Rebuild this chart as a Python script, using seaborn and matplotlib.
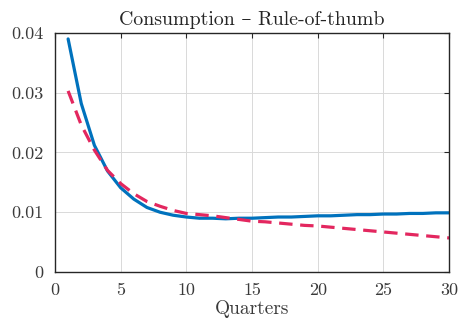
import numpy as np
import pandas as pd
import matplotlib
matplotlib.use("Agg")
import matplotlib.pyplot as plt
import seaborn as sns
from matplotlib.ticker import FuncFormatter

# Impulse response of consumption, quarters 1..30
quarters = list(range(1, 31))
baseline = [0.0390, 0.0282, 0.0212, 0.0169, 0.0141, 0.0122, 0.0108, 0.0100,
            0.0095, 0.0092, 0.0090, 0.0090, 0.0089, 0.0090, 0.0090, 0.0091,
            0.0092, 0.0092, 0.0093, 0.0094, 0.0094, 0.0095, 0.0096, 0.0096,
            0.0097, 0.0097, 0.0098, 0.0098, 0.0099, 0.0099]
alternative = [0.0303, 0.0246, 0.0204, 0.0170, 0.0148, 0.0131, 0.0118, 0.0110,
               0.0103, 0.0098, 0.0096, 0.0094, 0.0091, 0.0088, 0.0085, 0.0084,
               0.0082, 0.0080, 0.0078, 0.0077, 0.0075, 0.0073, 0.0071, 0.0069,
               0.0067, 0.0065, 0.0063, 0.0061, 0.0059, 0.0057]

title = "Consumption – Rule-of-thumb"
xlabel = "Quarters"
xticks = [0, 5, 10, 15, 20, 25, 30]
yticks = [0, 0.01, 0.02, 0.03, 0.04]

df = pd.DataFrame({
    "Quarters": quarters * 2,
    "value": baseline + alternative,
    "series": ["baseline"] * len(quarters) + ["alternative"] * len(quarters),
})

sns.set_theme(style="white")
plt.rcParams["font.family"] = ["cmr10", "DejaVu Serif"]
plt.rcParams["axes.formatter.use_mathtext"] = True

fig = plt.figure(figsize=(4.62, 3.2), dpi=100)
ax = fig.add_axes([0.119, 0.15, 0.853, 0.747])

sns.lineplot(data=df[df.series == "baseline"], x="Quarters", y="value",
             color="#0072BD", linewidth=2.3, ax=ax, legend=False)
sns.lineplot(data=df[df.series == "alternative"], x="Quarters", y="value",
             color="#E3275F", linewidth=2.3, ax=ax, legend=False,
             dashes=False)
ax.lines[-1].set_dashes([4.2, 2.4])

ax.set_xlim(0, 30)
ax.set_ylim(0, 0.04)
ax.set_xticks(xticks)
ax.set_yticks(yticks)
ax.yaxis.set_major_formatter(FuncFormatter(lambda v, p: f"{v:g}"))
ax.xaxis.set_major_formatter(FuncFormatter(lambda v, p: f"{v:g}"))

ax.grid(True, color="#d9d9d9", linewidth=0.7)
ax.set_axisbelow(True)
for s in ax.spines.values():
    s.set_color("#262626")
    s.set_linewidth(1.0)
ax.tick_params(direction="in", length=3.5, width=0.8, colors="#262626",
               top=True, right=True, labelsize=13, labelcolor="#3a3a3a")
ax.tick_params(axis="y", pad=8)
ax.tick_params(axis="x", pad=8)

ax.set_title(title, fontsize=14.3, color="#262626", pad=6)
ax.set_xlabel(xlabel, fontsize=14, color="#3a3a3a", labelpad=1)
ax.set_ylabel("")

fig.savefig("out.png", dpi=100)
